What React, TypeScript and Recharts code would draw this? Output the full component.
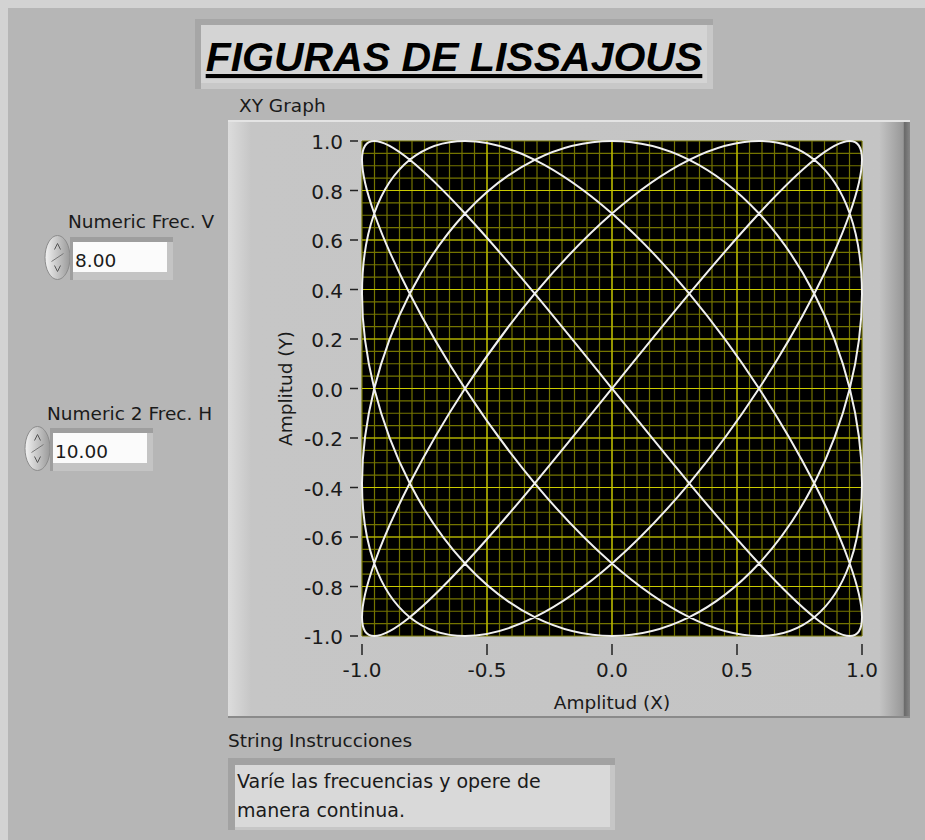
import { LineChart, Line, XAxis, YAxis, CartesianGrid } from "recharts";

// Lissajous trace (Frec. V = 8, Frec. H = 10)
const xValues = [
  0, 0.309, 0.588, 0.809, 0.951, 1, 0.951, 0.809, 0.588, 0.309, 0, -0.309, -0.588, -0.809, -0.951, -1, -0.951, -0.809, -0.588, -0.309,
  0, 0.309, 0.588, 0.809, 0.951, 1, 0.951, 0.809, 0.588, 0.309, 0, -0.309, -0.588, -0.809, -0.951, -1, -0.951, -0.809, -0.588, -0.309,
  0, 0.309, 0.588, 0.809, 0.951, 1, 0.951, 0.809, 0.588, 0.309, 0, -0.309, -0.588, -0.809, -0.951, -1, -0.951, -0.809, -0.588, -0.309,
  0, 0.309, 0.588, 0.809, 0.951, 1, 0.951, 0.809, 0.588, 0.309, 0, -0.309, -0.588, -0.809, -0.951, -1, -0.951, -0.809, -0.588, -0.309,
  0,
];
const yValues = [
  0, 0.383, 0.707, 0.924, 1, 0.924, 0.707, 0.383, 0, -0.383, -0.707, -0.924, -1, -0.924, -0.707, -0.383,
  0, 0.383, 0.707, 0.924, 1, 0.924, 0.707, 0.383, 0, -0.383, -0.707, -0.924, -1, -0.924, -0.707, -0.383,
  0, 0.383, 0.707, 0.924, 1, 0.924, 0.707, 0.383, 0, -0.383, -0.707, -0.924, -1, -0.924, -0.707, -0.383,
  0, 0.383, 0.707, 0.924, 1, 0.924, 0.707, 0.383, 0, -0.383, -0.707, -0.924, -1, -0.924, -0.707, -0.383,
  0, 0.383, 0.707, 0.924, 1, 0.924, 0.707, 0.383, 0, -0.383, -0.707, -0.924, -1, -0.924, -0.707, -0.383,
  0,
];

const xTicks = [-1, -0.5, 0, 0.5, 1];
const yTicks = [-1, -0.8, -0.6, -0.4, -0.2, 0, 0.2, 0.4, 0.6, 0.8, 1];

const minorGrid = [
  -1, -0.95, -0.9, -0.85, -0.8, -0.75, -0.7, -0.65, -0.6, -0.55, -0.5, -0.45, -0.4, -0.35, -0.3, -0.25, -0.2, -0.15, -0.1, -0.05,
  0, 0.05, 0.1, 0.15, 0.2, 0.25, 0.3, 0.35, 0.4, 0.45, 0.5, 0.55, 0.6, 0.65, 0.7, 0.75, 0.8, 0.85, 0.9, 0.95, 1,
];
const xMajorGrid = [-0.5, 0, 0.5];
const yMajorGrid = [-0.8, -0.6, -0.4, -0.2, 0, 0.2, 0.4, 0.6, 0.8];

const freqV = "8.00";
const freqH = "10.00";

const curve = xValues.map((x, i) => ({ x, y: yValues[i] }));

const FONT = "'DejaVu Sans', sans-serif";
const INK = "#1a1a1a";

function YTick({ x, y, payload }: any) {
  return (
    <g>
      <line x1={x - 12} x2={x - 4} y1={y} y2={y} stroke="#222" strokeWidth={1.5} />
      <text x={x - 19} y={y} dy={8} textAnchor="end" fontSize={20} fontFamily={FONT} fill={INK}>
        {Number(payload.value).toFixed(1)}
      </text>
    </g>
  );
}

function XTick({ x, y, payload }: any) {
  return (
    <g>
      <line x1={x} x2={x} y1={y + 8} y2={y + 19} stroke="#222" strokeWidth={1.5} />
      <text x={x} y={y + 41} textAnchor="middle" fontSize={20} fontFamily={FONT} fill={INK}>
        {Number(payload.value).toFixed(1)}
      </text>
    </g>
  );
}

function Spinner({ x, y }: { x: number; y: number }) {
  const cx = x + 12.5;
  const cy = y + 22.5;
  return (
    <g>
      <ellipse cx={cx} cy={cy} rx={12.5} ry={22} fill="url(#spinGrad)" stroke="#8c8c8c" />
      <path d={`M${cx - 3} ${cy - 8} L${cx} ${cy - 14} L${cx + 3} ${cy - 8}`} stroke="#555" fill="none" />
      <path d={`M${cx - 3} ${cy + 8} L${cx} ${cy + 14} L${cx + 3} ${cy + 8}`} stroke="#555" fill="none" />
      <line x1={cx - 6} y1={cy + 4} x2={cx + 6} y2={cy - 4} stroke="#777" />
    </g>
  );
}

function NumBox({ x, y, value }: { x: number; y: number; value: string }) {
  return (
    <g>
      <rect x={x} y={y} width={103} height={43} fill="#c4c4c4" />
      <rect x={x} y={y} width={103} height={5} fill="#9e9e9e" />
      <rect x={x} y={y} width={3} height={43} fill="#9e9e9e" />
      <rect x={x + 3} y={y + 5} width={94} height={30} fill="#fbfbfb" />
      <text x={x + 5} y={y + 30} fontSize={18.5} fontFamily={FONT} fill={INK}>
        {value}
      </text>
    </g>
  );
}

function Panel() {
  return (
    <svg width={925} height={840} style={{ position: "absolute", left: 0, top: 0 }}>
      <defs>
        <linearGradient id="frameGrad" x1="0" x2="1" y1="0" y2="0">
          <stop offset="0" stopColor="#dcdcdc" />
          <stop offset="0.034" stopColor="#c6c6c6" />
          <stop offset="0.955" stopColor="#c4c4c4" />
          <stop offset="0.99" stopColor="#989898" />
          <stop offset="0.992" stopColor="#6a6a6a" />
          <stop offset="1" stopColor="#868686" />
        </linearGradient>
        <linearGradient id="spinGrad" x1="0" x2="1" y1="0" y2="0">
          <stop offset="0" stopColor="#f2f2f2" />
          <stop offset="1" stopColor="#9a9a9a" />
        </linearGradient>
      </defs>
      <rect width={925} height={840} fill="#d3d3d3" />
      <rect x={8} y={8} width={917} height={832} fill="#b6b6b6" />

      {/* title */}
      <rect x={195} y={19} width={518} height={70} fill="#a6a6a6" />
      <rect x={201} y={25} width={512} height={64} fill="#c8c8c8" />
      <rect x={201} y={25} width={506} height={58} fill="#d4d4d4" />
      <text
        x={454}
        y={71}
        textAnchor="middle"
        fontFamily="'Liberation Sans', Arial, sans-serif"
        fontWeight="bold"
        fontStyle="italic"
        fontSize={41}
        fill="#000"
        textDecoration="underline"
      >
        FIGURAS DE LISSAJOUS
      </text>

      <text x={239} y={112} fontSize={18.5} fontFamily={FONT} fill={INK}>
        XY Graph
      </text>

      {/* graph frame */}
      <rect x={228} y={120} width={682} height={598} fill="url(#frameGrad)" />
      <rect x={228} y={120} width={682} height={2} fill="#e4e4e4" />
      <rect x={228} y={716} width={682} height={2} fill="#8a8a8a" />

      {/* numeric controls */}
      <text x={68} y={228} fontSize={18.5} fontFamily={FONT} fill={INK}>
        Numeric Frec. V
      </text>
      <Spinner x={45} y={235} />
      <NumBox x={70} y={237} value={freqV} />

      <text x={47} y={420} fontSize={18.5} fontFamily={FONT} fill={INK}>
        Numeric 2 Frec. H
      </text>
      <Spinner x={25} y={426} />
      <NumBox x={50} y={428} value={freqH} />

      {/* string indicator */}
      <text x={228} y={747} fontSize={18.5} fontFamily={FONT} fill={INK}>
        String Instrucciones
      </text>
      <rect x={228} y={758} width={387} height={72} fill="#c6c6c6" />
      <rect x={228} y={758} width={387} height={7} fill="#a2a2a2" />
      <rect x={228} y={758} width={7} height={72} fill="#a2a2a2" />
      <rect x={235} y={765} width={375} height={62} fill="#d9d9d9" />
      <text x={237} y={788} fontSize={19} fontFamily={FONT} fill={INK}>
        Varíe las frecuencias y opere de
      </text>
      <text x={237} y={817} fontSize={19} fontFamily={FONT} fill={INK}>
        manera continua.
      </text>
    </svg>
  );
}

export default function App() {
  return (
    <div style={{ position: "relative", width: 925, height: 840, overflow: "hidden" }}>
      <style>{`body{margin:0}`}</style>
      <Panel />
      <div style={{ position: "absolute", left: 228, top: 120 }}>
        <LineChart
          width={682}
          height={598}
          data={curve}
          margin={{ top: 21, right: 48, bottom: 0, left: 0 }}
          style={{ fontFamily: FONT }}
        >
          <CartesianGrid
            fill="#000"
            fillOpacity={1}
            stroke="#747400"
            strokeWidth={1.2}
            verticalValues={minorGrid}
            horizontalValues={minorGrid}
          />
          <CartesianGrid
            stroke="#caca00"
            strokeWidth={1.2}
            verticalValues={xMajorGrid}
            horizontalValues={yMajorGrid}
          />
          <XAxis
            type="number"
            dataKey="x"
            domain={[-1, 1]}
            ticks={xTicks}
            interval={0}
            height={82}
            axisLine={false}
            tickLine={false}
            tickSize={0}
            tickMargin={0}
            tick={(p: any) => <XTick {...p} />}
            label={{ value: "Amplitud (X)", position: "insideBottom", offset: 9, fontSize: 18.5, fill: INK }}
          />
          <YAxis
            type="number"
            domain={[-1, 1]}
            ticks={yTicks}
            interval={0}
            width={134}
            axisLine={false}
            tickLine={false}
            tickSize={0}
            tickMargin={0}
            tick={(p: any) => <YTick {...p} />}
            label={{
              value: "Amplitud (Y)",
              angle: -90,
              position: "insideLeft",
              offset: 57,
              fontSize: 18.5,
              fill: INK,
              style: { textAnchor: "middle" },
            }}
          />
          <Line
            type="natural"
            dataKey="y"
            stroke="#f0f0f0"
            strokeWidth={2}
            dot={false}
            activeDot={false}
            isAnimationActive={false}
          />
        </LineChart>
      </div>
    </div>
  );
}
